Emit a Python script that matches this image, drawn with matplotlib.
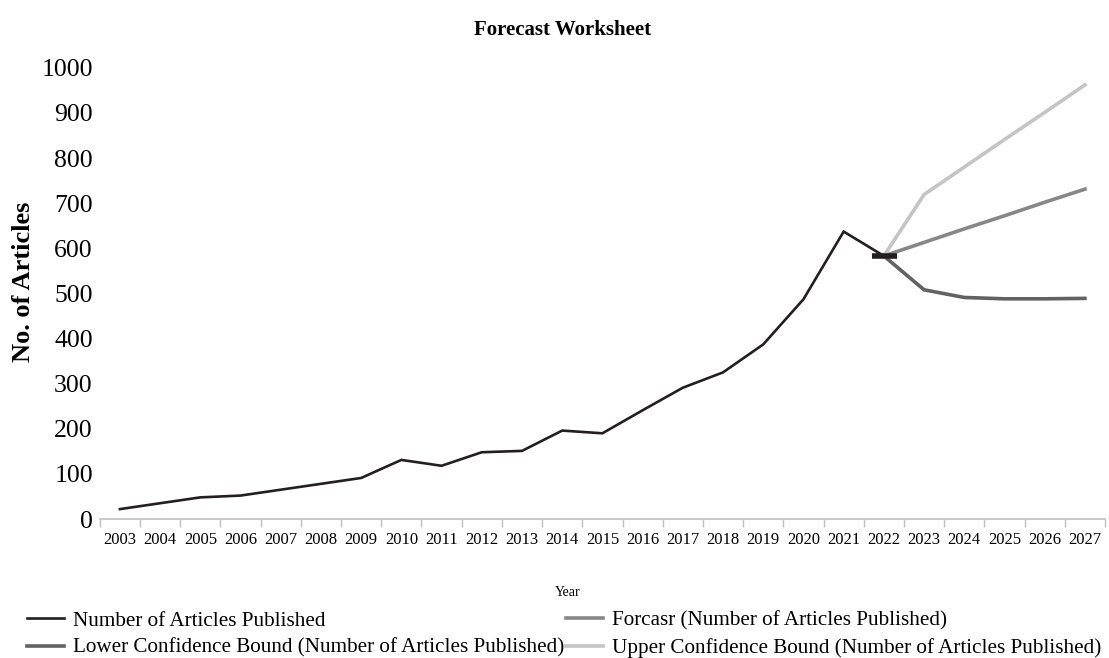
import matplotlib
matplotlib.use("Agg")
import matplotlib.pyplot as plt
import numpy as np

years = [str(y) for y in range(2003, 2028)]
actual_years = years[:20]          # 2003..2022
actual = [22, 35, 48, 52, 65, 78, 91, 131, 118, 148, 151, 196, 190, 241, 291, 325, 387, 487, 637, 583]
fc_years = years[19:]              # 2022..2027
forecast = [583, 613, 643, 672, 702, 731]
lower = [583, 508, 491, 488, 488, 489]
upper = [583, 719, 780, 841, 901, 962]

plt.rcParams['font.family'] = ['Liberation Serif', 'DejaVu Serif']

fig = plt.figure(figsize=(11.09, 6.58), dpi=100)
ax = fig.add_axes([0.090, 0.2112, 0.9064, 0.6858])

idx = {y: i for i, y in enumerate(years)}
xa = [idx[y] for y in actual_years]
xf = [idx[y] for y in fc_years]

c_act = '#231f20'
c_fc = '#878787'
c_lo = '#626262'
c_up = '#c4c4c4'

l1, = ax.plot(xa, actual, color=c_act, lw=1.9, solid_joinstyle='miter', zorder=4)
l3, = ax.plot(xf, lower, color=c_lo, lw=2.6, zorder=3)
l2, = ax.plot(xf, forecast, color=c_fc, lw=2.6, zorder=3)
l4, = ax.plot(xf, upper, color=c_up, lw=2.6, zorder=3)
ax.plot([xa[-1]], [actual[-1]], marker='_', ms=18, mew=4, color=c_act, zorder=5)

ax.set_xlim(-0.5, len(years) - 0.5)
ax.set_ylim(0, 1000)
ax.set_xticks(range(len(years)))
ax.set_xticklabels(years, fontsize=12)
ax.set_xticks(np.arange(-0.5, len(years)), minor=True)
ax.tick_params(axis='x', which='major', length=0, pad=9)
ax.tick_params(axis='x', which='minor', length=6, color='#bfbfbf', width=1)
ax.set_yticks(range(0, 1001, 100))
ax.tick_params(axis='y', length=0, labelsize=18.5, pad=5)

for s in ['top', 'right', 'left']:
    ax.spines[s].set_visible(False)
ax.spines['bottom'].set_color('#bfbfbf')
ax.spines['bottom'].set_linewidth(1.2)

fig.text(0.021, 0.571, 'No. of Articles', rotation=90, ha='center', va='center',
         fontsize=19, fontweight='bold')
fig.text(0.507, 0.954, 'Forecast Worksheet', ha='center', va='center', fontsize=15, fontweight='bold')
fig.text(0.512, 0.099, 'Year', ha='center', va='center', fontsize=10)

leg = fig.legend([l1, l3, l2, l4],
                 ['Number of Articles Published',
                  'Lower Confidence Bound (Number of Articles Published)',
                  'Forcasr (Number of Articles Published)',
                  'Upper Confidence Bound (Number of Articles Published)'],
                 ncol=2, loc='lower left', bbox_to_anchor=(0.017, -0.013),
                 frameon=False, fontsize=15.2, handlelength=1.74, handletextpad=0.42,
                 columnspacing=0.1, labelspacing=0.35, borderaxespad=0.0)

fig.savefig('out.png', dpi=100)
